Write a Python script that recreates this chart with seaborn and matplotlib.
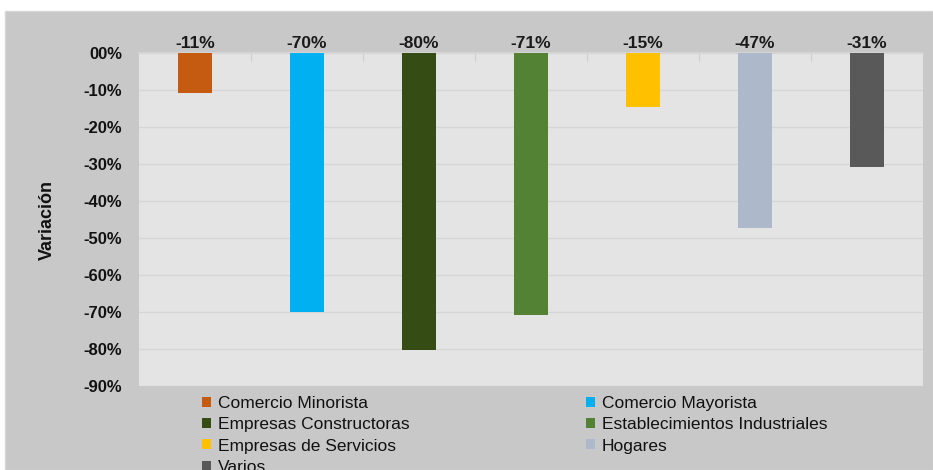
import matplotlib
matplotlib.use("Agg")
import matplotlib.pyplot as plt
from matplotlib.patches import Patch, Rectangle
from matplotlib.ticker import FuncFormatter
import seaborn as sns
import pandas as pd

# Variación por sector
categorias = [
    "Comercio Minorista",
    "Comercio Mayorista",
    "Empresas Constructoras",
    "Establecimientos Industriales",
    "Empresas de Servicios",
    "Hogares",
    "Varios",
]
variacion = [-0.108, -0.700, -0.803, -0.708, -0.146, -0.473, -0.308]
colores = ["#c55a11", "#00b0f0", "#354c15", "#548235", "#ffc000", "#adb9ca", "#595959"]
ticks_y = [0.0, -0.1, -0.2, -0.3, -0.4, -0.5, -0.6, -0.7, -0.8, -0.9]

sns.set_theme(style="white")
plt.rcParams["font.family"] = ["Liberation Sans", "DejaVu Sans"]

df = pd.DataFrame({"categoria": categorias, "variacion": variacion})

fig = plt.figure(figsize=(9.33, 4.70), dpi=100, facecolor="white")
W, H = 933, 470
# gray chart frame
fig.patches.append(Rectangle((5 / W, 0), 1 - 5 / W, 1 - 11 / H, transform=fig.transFigure,
                             facecolor="#c8c8c8", edgecolor="#d6d6d6", linewidth=1, zorder=-10))

ax = fig.add_axes([139 / W, 1 - 386 / H, (923 - 139) / W, (386 - 53) / H])
ax.set_facecolor("#e4e4e4")

sns.barplot(data=df, x="categoria", y="variacion", hue="categoria",
            palette=colores, saturation=1, width=0.31, legend=False, ax=ax,
            edgecolor="none", linewidth=0, zorder=3)

ax.set_ylim(-0.9, 0.0)
ax.set_xlim(-0.5, len(categorias) - 0.5)
ax.set_yticks(ticks_y)
ax.yaxis.set_major_formatter(FuncFormatter(
    lambda v, _: "00%" if abs(v) < 1e-9 else f"{v * 100:.0f}%"))
ax.tick_params(axis="y", length=0, pad=12, labelsize=12)
for lab in ax.get_yticklabels():
    lab.set_fontweight("bold")
    lab.set_color("#111111")

ax.grid(axis="y", color="#d6d6d6", linewidth=1, zorder=0)
ax.set_axisbelow(True)

# category separators as short ticks along the zero line
ax.xaxis.set_ticks_position("top")
ax.set_xticks([i + 0.5 for i in range(len(categorias) - 1)])
ax.set_xticklabels([])
ax.tick_params(axis="x", direction="in", length=6, color="#d0d0d0", width=1)

for s in ["left", "right", "bottom"]:
    ax.spines[s].set_visible(False)
ax.spines["top"].set_color("#d6d6d6")

ax.set_xlabel("")
ax.set_ylabel("Variación", fontsize=13, fontweight="bold", labelpad=20, color="#111111")

for i, v in enumerate(variacion):
    ax.annotate(f"{v * 100:.0f}%", xy=(i, 0), xytext=(0, 1.5), textcoords="offset points",
                ha="center", va="bottom", fontsize=12.5, fontweight="bold",
                color="#1a1a1a", annotation_clip=False)

orden = [0, 2, 4, 6, 1, 3, 5]
handles = [Patch(facecolor=colores[i], edgecolor="none") for i in orden]
labels = [categorias[i] for i in orden]
leg = fig.legend(handles, labels, ncol=2, loc="upper left",
                 bbox_to_anchor=(202 / W, 1 - 396 / H), frameon=False,
                 fontsize=12.5, handlelength=0.5, handleheight=0.5, handletextpad=0.4,
                 columnspacing=10.2, labelspacing=0.36, borderaxespad=0, borderpad=0)
for t in leg.get_texts():
    t.set_color("#111111")

fig.savefig("out.png", dpi=100, facecolor="white")
